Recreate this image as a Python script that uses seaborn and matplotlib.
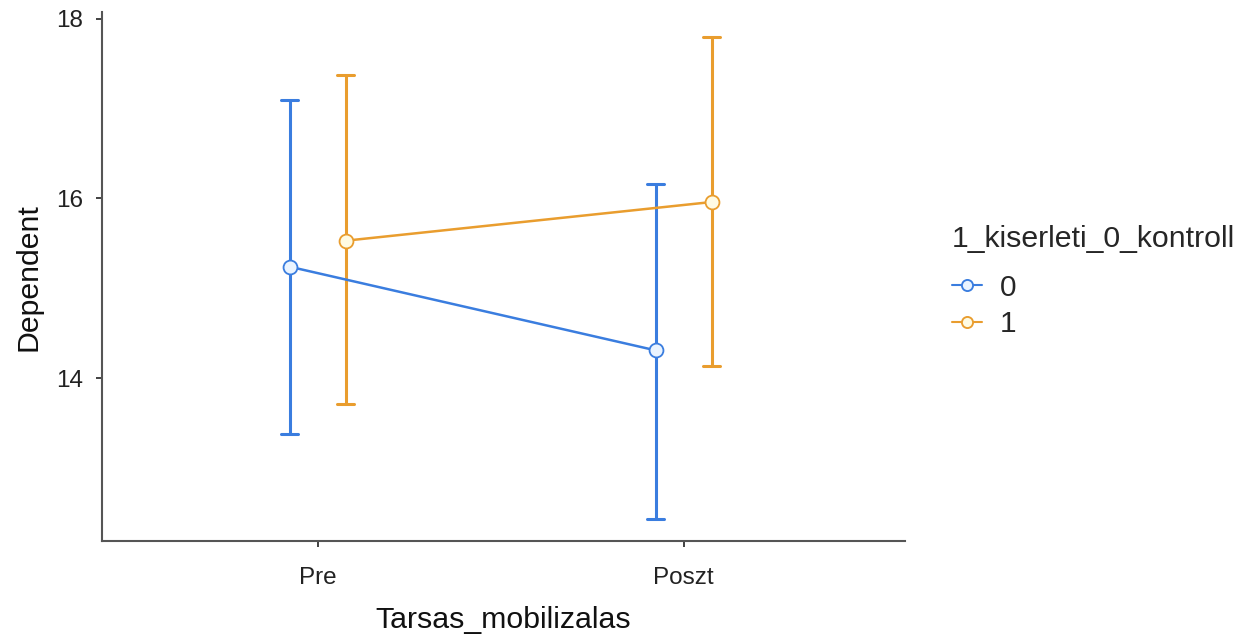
import seaborn as sns
import matplotlib.pyplot as plt
import pandas as pd

# Values: mean and error-bar ends per group
phases = ['Pre', 'Poszt']
groups = ['0', '1']
mean_0 = [15.24, 14.31]
low_0 = [13.38, 12.44]
high_0 = [17.09, 16.16]
mean_1 = [15.53, 15.96]
low_1 = [13.71, 14.14]
high_1 = [17.37, 17.80]

rows = []
for g, m, lo, hi in [('0', mean_0, low_0, high_0), ('1', mean_1, low_1, high_1)]:
    for i, ph in enumerate(phases):
        for v in (lo[i], m[i], hi[i]):
            rows.append({'Tarsas_mobilizalas': ph, 'Dependent': v, '1_kiserleti_0_kontroll': g})
df = pd.DataFrame(rows)

sns.set_style("white")
plt.rcParams['font.family'] = ['Liberation Sans', 'DejaVu Sans']

palette = {'0': '#3a7ddf', '1': '#e99d2e'}
fills = {'0': '#eaf4ff', '1': '#fffbe3'}
fig = plt.figure(figsize=(12.51, 6.37), dpi=100)
ax = fig.add_axes([0.0815, 0.1507, 0.642, 0.830])

sns.pointplot(data=df, x='Tarsas_mobilizalas', y='Dependent', hue='1_kiserleti_0_kontroll',
              hue_order=groups, order=phases, palette=palette,
              estimator='median', errorbar=lambda v: (v.min(), v.max()),
              dodge=0.153, capsize=0.046, markers='o', markersize=10,
              linewidth=1.8, err_kws={'linewidth': 2.2}, ax=ax)

# pale marker fill drawn above the error bars
point_lines = [l for l in ax.lines if l.get_marker() not in (None, 'None', '')]
for line, g in zip(point_lines, groups):
    line.set_zorder(4)
    line.set_markeredgewidth(1.3)
    line.set_markerfacecolor(fills[g])

ax.set_xlim(-0.59, 1.605)
ax.set_ylim(12.19, 18.07)
ax.set_yticks([14, 16, 18])
sns.despine(ax=ax)
for s in ['left', 'bottom']:
    ax.spines[s].set_color('#555555')
    ax.spines[s].set_linewidth(1.5)
ax.tick_params(axis='both', left=True, bottom=True, direction='out', length=4,
               width=1.3, color='#333333', labelsize=17.5, labelcolor='#222222')
ax.tick_params(axis='y', pad=9.5)
ax.tick_params(axis='x', pad=14.5)
ax.set_xlabel('Tarsas_mobilizalas', fontsize=21.8, color='#111111', labelpad=12.5)
ax.set_ylabel('Dependent', fontsize=21.8, color='#111111', labelpad=10)

sns.move_legend(ax, loc='upper left', bbox_to_anchor=(0.761, 0.647),
                bbox_transform=fig.transFigure, frameon=False,
                title='1_kiserleti_0_kontroll', fontsize=21.5, title_fontsize=21.8,
                borderpad=0, borderaxespad=0, handlelength=1.0, handletextpad=0.6,
                labelspacing=0.28, alignment='left')
leg = ax.get_legend()
leg._legend_box.sep = 15
for h, g in zip(leg.legend_handles, groups):
    h.set_markerfacecolor(fills[g])
    h.set_markersize(8)
    h.set_linewidth(1.5)

fig.savefig('out.png', dpi=100)
